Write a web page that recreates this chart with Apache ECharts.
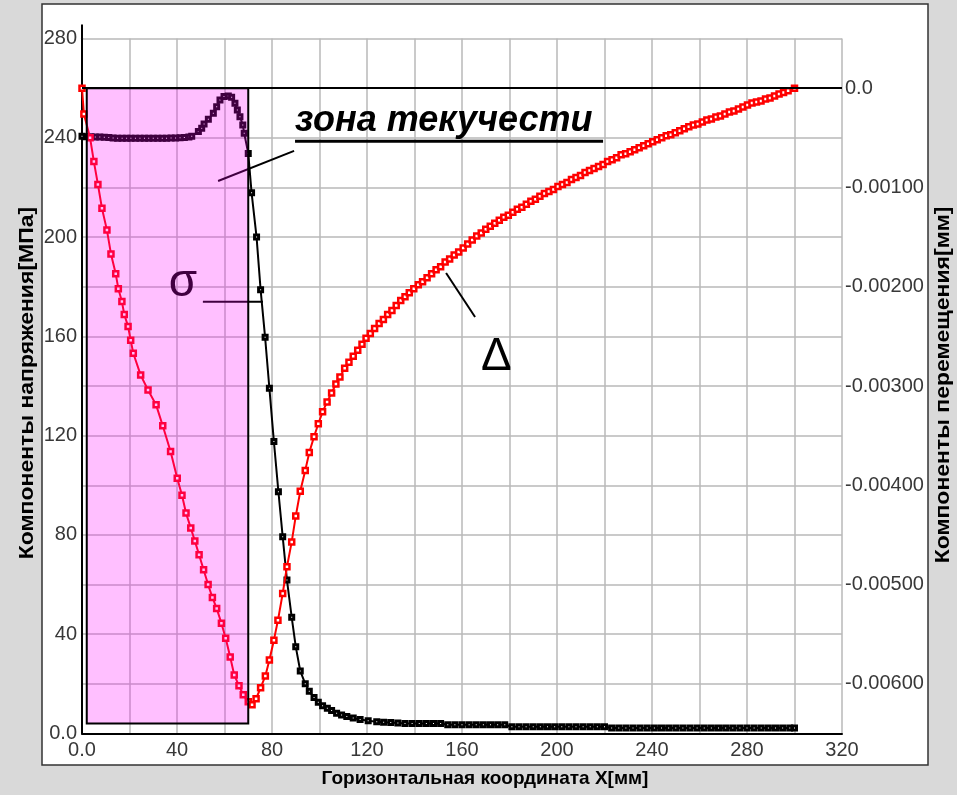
<!DOCTYPE html>
<html>
<head>
<meta charset="utf-8">
<script src="https://cdn.jsdelivr.net/npm/echarts@6/dist/echarts.min.js"></script>
<style>
  html, body { margin: 0; padding: 0; background: #d9d9d9; }
  #chart { width: 957px; height: 795px; }
</style>
</head>
<body>
<div id="chart"></div>
<script>
// Horizontal coordinate of the nodes, mm (stress curve)
const sigmaX = [
  0, 1.9, 3.8, 5.6, 7.5, 9.4, 11.3, 13.1, 15.0, 16.9, 18.8, 20.6, 22.5, 24.4, 26.3, 28.1,
  30.0, 31.9, 33.8, 35.6, 37.5, 39.4, 41.3, 43.1, 45.0, 46.2, 49.0, 50.4, 51.4, 53.2, 55.3,
  56.7, 58.1, 59.8, 61.6, 63.0, 64.4, 65.4, 66.5, 67.7, 68.3, 70.0, 71.4, 73.5, 75.2, 77.1,
  78.9, 80.8, 82.7, 84.5, 86.3, 88.3, 90.0, 91.9, 94.0, 95.7, 97.7, 99.5, 101.3, 103.3,
  105.1, 107.2, 109.3, 111.5, 114.2, 117.1, 120.5, 124.1, 127, 130, 133, 136, 139, 142,
  145, 148, 151, 154, 157, 160, 163, 166, 169, 172, 175, 178, 181, 184, 187, 190, 193, 196,
  199, 202, 205, 208, 211, 214, 217, 220, 223, 226, 229, 232, 235, 238, 241, 244, 247, 250,
  253, 256, 259, 262, 265, 268, 271, 274, 277, 280, 283, 286, 289, 292, 295, 298, 300
];
// Stress component σ, MPa
const sigmaMPa = [
  240.6, 240.4, 240.4, 240.3, 240.3, 240.2, 240.1, 239.9, 239.8, 239.8, 239.8, 239.8, 239.8,
  239.8, 239.8, 239.8, 239.8, 239.8, 239.8, 239.8, 239.9, 239.9, 240.0, 240.1, 240.3, 240.6,
  242.5, 243.8, 245.6, 247.5, 249.9, 252.5, 255.2, 256.6, 256.8, 256.3, 253.9, 251.2, 248.5,
  245.2, 241.8, 233.7, 217.9, 200.0, 178.8, 159.6, 139.1, 117.6, 97.4, 79.3, 61.8, 46.8,
  35.0, 25.2, 20.0, 17.0, 14.5, 12.6, 11.2, 10.2, 9.3, 8.2, 7.5, 6.8, 6.2, 5.6, 5.1, 4.7,
  4.5, 4.4, 4.2, 4.0, 4.0, 4.0, 4.0, 4.0, 4.0, 3.5, 3.5, 3.5, 3.5, 3.5, 3.5, 3.5, 3.5, 3.5,
  2.7, 2.7, 2.7, 2.7, 2.7, 2.7, 2.7, 2.7, 2.7, 2.7, 2.7, 2.7, 2.7, 2.7,
  2.2, 2.2, 2.2, 2.2, 2.2, 2.2, 2.2, 2.2, 2.2, 2.2, 2.2, 2.2, 2.2, 2.2, 2.2, 2.2, 2.2, 2.2,
  2.2, 2.2, 2.2, 2.2, 2.2, 2.2, 2.2, 2.2, 2.2
];

// Horizontal coordinate of the nodes, mm (displacement curve)
const deltaX = [
  0, 0.8, 3.4, 5.0, 6.7, 8.4, 10.5, 12.2, 14.2, 15.3, 16.8, 17.8, 19.4, 20.5, 21.6, 24.7,
  27.8, 31.2, 34.0, 37.3, 40.1, 42.1, 43.8, 45.8, 47.5, 49.3, 51.2, 53.1, 54.9, 56.7, 58.7,
  60.5, 62.4, 64.1, 66.1, 67.9, 70.0, 71.6, 73.3, 75.2, 77.2, 78.9, 80.8, 82.5, 84.5, 86.3,
  88.3, 90.0, 91.9, 94.0, 95.7, 97.7, 99.5, 101.3, 103.2, 105.1, 106.9, 108.6, 110.6, 112.4,
  114.2, 116.1, 117.9, 119.6, 121.4, 123.2, 125.1, 126.9, 128.7, 130.5, 132.3, 134.2, 136.0,
  137.8, 139.7, 141.6, 143.4, 145.3, 147.2, 149.1, 151.0, 152.9, 154.8, 156.7, 158.6, 160.5,
  162.4, 164.3, 166.2, 168.1, 170.0, 171.9, 173.8, 175.7, 177.6, 179.5, 181.4, 183.3, 185.2,
  187.1, 189.0, 190.9, 192.8, 194.7, 196.6, 198.5, 200.4, 202.3, 204.2, 206.1, 208.0, 209.9,
  211.8, 213.7, 215.6, 217.5, 219.4, 221.3, 223.2, 225.1, 227.0, 228.9, 230.8, 232.7, 234.6,
  236.5, 238.4, 240.3, 242.2, 244.1, 246.0, 247.9, 249.8, 251.7, 253.6, 255.5, 257.4, 259.3,
  261.2, 263.1, 265.0, 266.9, 268.8, 270.7, 272.6, 274.5, 276.4, 278.3, 280.2, 282.1, 284.0,
  285.9, 287.8, 289.7, 291.6, 293.5, 295.4, 297.3, 300.0
];
// Displacement component Δ, mm
const deltaMm = [
  0, -0.00026, -0.00050, -0.00074, -0.00097, -0.00121, -0.00143, -0.00167, -0.00187,
  -0.00202, -0.00215, -0.00228, -0.00240, -0.00254, -0.00267, -0.00289, -0.00304, -0.00319,
  -0.00340, -0.00366, -0.00393, -0.00410, -0.00428, -0.00443, -0.00456, -0.00470, -0.00485,
  -0.00500, -0.00513, -0.00524, -0.00539, -0.00554, -0.00573, -0.00591, -0.00602, -0.00611,
  -0.00618, -0.00621, -0.00615, -0.00604, -0.00592, -0.00576, -0.00556, -0.00536, -0.00509,
  -0.00482, -0.00457, -0.00431, -0.00406, -0.00385, -0.00367, -0.00351, -0.00338, -0.00326,
  -0.00316, -0.00307, -0.00298, -0.00291, -0.00282, -0.00276, -0.00270, -0.00264, -0.00258,
  -0.00252, -0.00247, -0.00242, -0.00237, -0.00233, -0.00228, -0.00224, -0.00219, -0.00214,
  -0.00210, -0.00206, -0.00202, -0.00198, -0.00195, -0.00191, -0.00187, -0.00183, -0.00180,
  -0.00175, -0.00172, -0.00168, -0.00165, -0.00161, -0.00157, -0.00153, -0.00149, -0.00146,
  -0.00142, -0.00139, -0.00136, -0.00133, -0.00130, -0.00128, -0.00125, -0.00122, -0.00120,
  -0.00117, -0.00114, -0.00112, -0.00109, -0.00106, -0.00104, -0.00102, -0.00099, -0.00097,
  -0.00095, -0.00092, -0.00090, -0.00088, -0.00085, -0.00083, -0.00081, -0.00079, -0.00077,
  -0.00074, -0.00072, -0.00070, -0.00067, -0.00066, -0.00064, -0.00062, -0.00060, -0.00058,
  -0.00056, -0.00054, -0.00052, -0.00050, -0.00048, -0.00047, -0.00045, -0.00043, -0.00041,
  -0.00039, -0.00037, -0.00036, -0.00034, -0.00032, -0.00031, -0.00029, -0.00028, -0.00026,
  -0.00024, -0.00023, -0.00021, -0.00019, -0.00017, -0.00015, -0.00014, -0.00013, -0.00011,
  -0.00010, -0.00008, -0.00006, -0.000045, -0.000027, 0
];

// Yield zone: x range (mm) and stress range (MPa)
const zoneX = [2, 70];
const zoneStress = [4, 260];

// Axis ranges and ticks
const xRange = [0, 320];
const stressRange = [0, 280];
const dispRange = [-0.0065, 0.0005];

const FONT_NUM = "'Liberation Sans', Arial, sans-serif";
const FONT_TXT = "'Liberation Sans', Arial, sans-serif";

const chart = echarts.init(document.getElementById('chart'), null, { renderer: 'canvas' });

const zip = (xs, ys) => xs.map((x, i) => [x, ys[i]]);

const numLabel = {
  fontFamily: FONT_NUM,
  fontSize: 20,
  color: '#383838'
};

const option = {
  animation: false,
  backgroundColor: '#d9d9d9',
  grid: { left: 82, right: 115, top: 38.5, bottom: 61.5, containLabel: false },
  xAxis: {
    type: 'value',
    min: xRange[0], max: xRange[1], interval: 20,
    axisLine: { show: true, onZero: false, lineStyle: { color: '#000', width: 2 } },
    axisTick: { show: false },
    axisLabel: Object.assign({}, numLabel, {
      margin: 7,
      formatter: v => v === 0 ? '0.0' : (v % 40 === 0 ? String(v) : '')
    }),
    splitLine: { show: true, lineStyle: { color: '#b9b9b9', width: 1.5 } }
  },
  yAxis: [
    {
      type: 'value',
      min: stressRange[0], max: stressRange[1], interval: 20,
      axisLine: { show: true, onZero: false, lineStyle: { color: '#000', width: 2 } },
      axisTick: { show: false },
      axisLabel: Object.assign({}, numLabel, {
        margin: 5,
        formatter: v => v === 0 ? '0.0' : (v % 40 === 0 ? String(v) : '')
      }),
      splitLine: { show: true, lineStyle: { color: '#b9b9b9', width: 1.5 } }
    },
    {
      type: 'value',
      position: 'right',
      min: dispRange[0], max: dispRange[1], interval: 0.0005,
      axisLine: { show: false },
      axisTick: { show: false },
      axisLabel: Object.assign({}, numLabel, {
        margin: 3,
        formatter: v => {
          const k = Math.round(v * 10000);
          if (k > 0 || Math.abs(k) % 10 !== 0) return '';
          return k === 0 ? '0.0' : v.toFixed(5);
        }
      }),
      splitLine: { show: false }
    }
  ],
  series: [
    {
      name: 'σ',
      type: 'line',
      xAxisIndex: 0, yAxisIndex: 0,
      data: zip(sigmaX, sigmaMPa),
      showAllSymbol: true,
      symbol: 'rect',
      symbolSize: 4,
      itemStyle: { color: '#fff', borderColor: '#000', borderWidth: 3 },
      lineStyle: { color: '#000', width: 2 },
      z: 2
    },
    {
      name: 'Δ',
      type: 'line',
      xAxisIndex: 0, yAxisIndex: 1,
      data: zip(deltaX, deltaMm),
      showAllSymbol: true,
      symbol: 'rect',
      symbolSize: 5,
      itemStyle: { color: '#fff', borderColor: '#ff0000', borderWidth: 2.5 },
      lineStyle: { color: '#ff0000', width: 2 },
      z: 3,
      markLine: {
        silent: true,
        symbol: 'none',
        label: { show: false },
        lineStyle: { color: '#000', width: 2, type: 'solid' },
        data: [{ yAxis: 0 }]
      }
    },
    {
      // translucent magenta yield zone laid over the curves
      name: 'zone',
      type: 'custom',
      xAxisIndex: 0, yAxisIndex: 0,
      silent: true,
      z: 10,
      data: [[zoneX[0], zoneStress[0], zoneX[1], zoneStress[1]]],
      encode: { x: [0, 2], y: [1, 3] },
      renderItem: (params, api) => {
        const a = api.coord([api.value(0), api.value(3)]);
        const b = api.coord([api.value(2), api.value(1)]);
        return {
          type: 'rect',
          shape: { x: a[0], y: a[1], width: b[0] - a[0], height: b[1] - a[1] },
          style: { fill: 'rgba(255,0,255,0.25)', stroke: '#000', lineWidth: 2 }
        };
      }
    }
  ]
};

chart.setOption(option);

// Annotations placed in data space (x in mm, stress in MPa)
const P = (x, v) => chart.convertToPixel({ xAxisIndex: 0, yAxisIndex: 0 }, [x, v]);

const zoneText = P(89.7, 246.8);
const zoneUnderA = P(89.7, 238.6), zoneUnderB = P(219.4, 238.6);
const zoneLeadA = P(57.3, 222.6), zoneLeadB = P(89.3, 234.7);
const sigmaText = P(42.5, 181.5);
const sigmaLeadA = P(50.9, 173.9), sigmaLeadB = P(76.2, 173.9);
const deltaText = P(174.5, 151.5);
const deltaLeadA = P(153.3, 185.5), deltaLeadB = P(165.5, 167.8);
const axisTop = P(0, 280);

chart.setOption({
  graphic: [
    {
      type: 'rect', z: -10, silent: true,
      shape: { x: 42, y: 4, width: 886, height: 761 },
      style: { fill: '#fff', stroke: '#333', lineWidth: 1.5 }
    },
    {
      type: 'line', z: 1, silent: true,
      shape: { x1: axisTop[0], y1: axisTop[1], x2: axisTop[0], y2: axisTop[1] - 14 },
      style: { stroke: '#000', lineWidth: 2 }
    },
    {
      type: 'text', z: 4, silent: true,
      x: 27, y: 383, rotation: Math.PI / 2, scaleX: 1.15,
      style: {
        text: 'Компоненты напряжения[МПа]',
        font: 'bold 20px ' + FONT_TXT, fill: '#000',
        textAlign: 'center', textVerticalAlign: 'middle'
      }
    },
    {
      type: 'text', z: 4, silent: true,
      x: 943, y: 385, rotation: Math.PI / 2, scaleX: 1.15,
      style: {
        text: 'Компоненты перемещения[мм]',
        font: 'bold 20px ' + FONT_TXT, fill: '#000',
        textAlign: 'center', textVerticalAlign: 'middle'
      }
    },
    {
      type: 'text', z: 4, silent: true,
      x: 485, y: 779,
      style: {
        text: 'Горизонтальная координата X[мм]',
        font: 'bold 19px ' + FONT_TXT, fill: '#000',
        textAlign: 'center', textVerticalAlign: 'middle'
      }
    },
    {
      type: 'text', z: 4, silent: true,
      x: zoneText[0], y: zoneText[1],
      style: {
        text: 'зона текучести',
        font: 'italic bold 36px ' + FONT_TXT, fill: '#000',
        textAlign: 'left', textVerticalAlign: 'middle'
      }
    },
    {
      type: 'line', z: 4, silent: true,
      shape: { x1: zoneUnderA[0], y1: zoneUnderA[1], x2: zoneUnderB[0], y2: zoneUnderB[1] },
      style: { stroke: '#000', lineWidth: 3 }
    },
    {
      type: 'line', z: 4, silent: true,
      shape: { x1: zoneLeadA[0], y1: zoneLeadA[1], x2: zoneLeadB[0], y2: zoneLeadB[1] },
      style: { stroke: '#000', lineWidth: 2 }
    },
    {
      type: 'text', z: 4, silent: true,
      x: sigmaText[0], y: sigmaText[1],
      style: {
        text: 'σ',
        font: '46px ' + FONT_TXT, fill: '#000',
        textAlign: 'center', textVerticalAlign: 'middle'
      }
    },
    {
      type: 'line', z: 4, silent: true,
      shape: { x1: sigmaLeadA[0], y1: sigmaLeadA[1], x2: sigmaLeadB[0], y2: sigmaLeadB[1] },
      style: { stroke: '#000', lineWidth: 2 }
    },
    {
      type: 'text', z: 4, silent: true,
      x: deltaText[0], y: deltaText[1],
      style: {
        text: 'Δ',
        font: '46px ' + FONT_TXT, fill: '#000',
        textAlign: 'center', textVerticalAlign: 'middle'
      }
    },
    {
      type: 'line', z: 4, silent: true,
      shape: { x1: deltaLeadA[0], y1: deltaLeadA[1], x2: deltaLeadB[0], y2: deltaLeadB[1] },
      style: { stroke: '#000', lineWidth: 2 }
    }
  ]
});
</script>
</body>
</html>
